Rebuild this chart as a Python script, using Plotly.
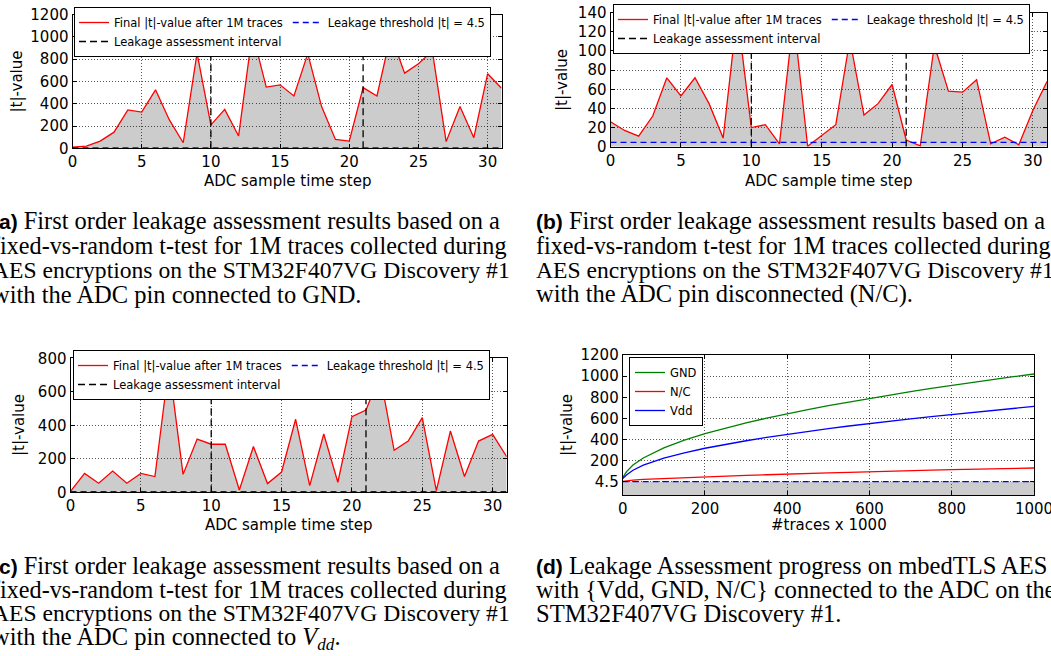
import plotly.graph_objects as go

W, H = 1051, 656

# ---------------- data ----------------
steps = list(range(32))
t_gnd = [10, 20, 65, 145, 345, 325, 525, 255, 50, 855, 210, 350, 110, 1040, 550, 570,
         470, 850, 375, 80, 65, 545, 470, 1020, 675, 760, 875, 60, 375, 95, 670, 540]
t_nc = [26, 17, 11, 32, 72, 53, 72, 45, 9, 140, 20, 23, 3, 135, 0.5, 12,
        23, 112, 33, 45, 65, 7, 1, 106, 58, 57, 70, 3, 10, 2, 38, 68]
t_vdd = [5, 113, 54, 127, 54, 113, 94, 760, 107, 318, 287, 287, 14, 273, 52, 121,
         436, 40, 348, 60, 452, 491, 700, 251, 306, 446, 10, 366, 94, 306, 346, 213]
interval = [10, 21]
threshold = 4.5

k_traces = [0, 10, 25, 50, 100, 150, 200, 250, 300, 350, 400, 450, 500, 550, 600, 650,
            700, 750, 800, 850, 900, 950, 1000]
prog_gnd = [45, 102, 162, 228, 323, 396, 457, 511, 559, 604, 646, 685, 722, 757, 791, 824,
            855, 885, 914, 942, 969, 996, 1021]
prog_nc = [8, 14, 20, 26, 35, 43, 52, 58, 64, 70, 78, 83, 88, 93, 100, 104,
           109, 114, 119, 123, 127, 130, 134]
prog_vdd = [35, 71, 113, 160, 226, 277, 320, 357, 391, 423, 452, 479, 505, 530, 554, 576,
            598, 619, 639, 659, 678, 697, 715]

step_ticks = [0, 5, 10, 15, 20, 25, 30]
a_yticks = [0, 200, 400, 600, 800, 1000, 1200]
b_yticks = [0, 20, 40, 60, 80, 100, 120, 140]
c_yticks = [0, 200, 400, 600, 800]
d_xticks = [0, 200, 400, 600, 800, 1000]
d_yticks = [4.5, 200, 400, 600, 800, 1000, 1200]
d_yticktext = ["4.5", "200", "400", "600", "800", "1000", "1200"]

cap_a = ["First order leakage assessment results based on a",
         "fixed-vs-random t-test for 1M traces collected during",
         "AES encryptions on the STM32F407VG Discovery #1",
         "with the ADC pin connected to GND."]
cap_b = ["First order leakage assessment results based on a",
         "fixed-vs-random t-test for 1M traces collected during",
         "AES encryptions on the STM32F407VG Discovery #1",
         "with the ADC pin disconnected (N/C)."]
cap_c = ["First order leakage assessment results based on a",
         "fixed-vs-random t-test for 1M traces collected during",
         "AES encryptions on the STM32F407VG Discovery #1",
         "with the ADC pin connected to <i>V</i><sub><i>dd</i></sub>."]
cap_d = ["Leakage Assessment progress on mbedTLS AES",
         "with {Vdd, GND, N/C} connected to the ADC on the",
         "STM32F407VG Discovery #1."]

# ---------------- helpers ----------------
def dx(l, r):
    return [l / W, r / W]

def dy(t, b):
    return [1 - b / H, 1 - t / H]

SANS = "DejaVu Sans"
SERIF = "Liberation Serif"
GRID = "rgba(0,0,0,0.65)"
FILL = "rgba(0,0,0,0.2)"
LEGFONT = dict(family=SANS, size=11.5, color="black")

def axis(domain, rng, anchor, tickvals, ticktext=None):
    d = dict(domain=domain, range=rng, anchor=anchor, showline=True, linecolor="black",
             linewidth=1, mirror="ticks", ticks="inside", ticklen=4, tickcolor="black",
             showgrid=True, gridcolor=GRID, griddash="1px,2px", gridwidth=1,
             zeroline=False, automargin=False, tickmode="array", tickvals=tickvals,
             ticklabeloverflow="allow",
             tickfont=dict(family=SANS, size=15, color="black"))
    if ticktext is not None:
        d["ticktext"] = ticktext
    return d

fig = go.Figure()

panels = [
    ("a", t_gnd, a_yticks, (72.5, 501.5), (14.7, 148.3), "legend", (74, 7)),
    ("b", t_nc, b_yticks, (610.5, 1047), (12.7, 146.7), "legend2", (613, 4)),
    ("c", t_vdd, c_yticks, (70.5, 506.7), (358.3, 492.3), "legend3", (73, 350)),
]
layout_axes = {}
legends = {}
for i, (nm, vals, yt, xd, yd, lg, lpos) in enumerate(panels):
    n = "" if i == 0 else str(i + 1)
    xa, ya = "x" + n, "y" + n
    yr = [yt[0], yt[-1]]
    fig.add_trace(go.Scatter(x=steps, y=vals, mode="lines", fill="tozeroy", fillcolor=FILL,
                             line=dict(width=0, color=FILL), xaxis=xa, yaxis=ya,
                             showlegend=False, hoverinfo="skip"))
    fig.add_trace(go.Scatter(x=steps, y=vals, mode="lines",
                             line=dict(color="red", width=1.3), xaxis=xa, yaxis=ya,
                             name="Final |t|-value after 1M traces", legend=lg,
                             legendgroup=nm + "1"))
    fig.add_trace(go.Scatter(x=[steps[0], steps[-1]], y=[threshold, threshold], mode="lines",
                             line=dict(color="blue", width=1.3, dash="6px,4px"), xaxis=xa, yaxis=ya,
                             name="Leakage threshold |t| = 4.5", legend=lg, legendgroup=nm + "2"))
    vx, vy = [], []
    for v in interval:
        vx += [v, v, None]
        vy += [yr[0], yr[1], None]
    fig.add_trace(go.Scatter(x=vx, y=vy, mode="lines",
                             line=dict(color="black", width=1.3, dash="7px,4px"), xaxis=xa, yaxis=ya,
                             name="Leakage assessment interval", legend=lg, legendgroup=nm + "1"))
    layout_axes["xaxis" + n] = axis(dx(*xd), [steps[0], steps[-1]], ya, step_ticks)
    layout_axes["yaxis" + n] = axis(dy(*yd), yr, xa, yt)
    legends[lg] = dict(x=lpos[0] / W, y=1 - lpos[1] / H, xanchor="left", yanchor="top",
                       orientation="h", bgcolor="white", bordercolor="black", borderwidth=1,
                       font=LEGFONT, tracegroupgap=0)

# panel d
d_yr = [-121, 1200]
for vals, col, nm in [(prog_gnd, "green", "GND"), (prog_nc, "red", "N/C"), (prog_vdd, "blue", "Vdd")]:
    fig.add_trace(go.Scatter(x=k_traces, y=vals, mode="lines", line=dict(color=col, width=1.3),
                             xaxis="x4", yaxis="y4", name=nm, legend="legend4"))
fig.add_trace(go.Scatter(x=[k_traces[0], k_traces[-1]], y=[threshold, threshold], mode="lines",
                         line=dict(color="blue", width=1.3, dash="6px,4px"), xaxis="x4", yaxis="y4",
                         showlegend=False))
fig.add_shape(type="rect", xref="x4 domain", yref="y4", x0=0, x1=1, y0=d_yr[0], y1=threshold,
              fillcolor=FILL, line=dict(width=0), layer="below")
layout_axes["xaxis4"] = axis(dx(622.7, 1034), [k_traces[0], k_traces[-1]], "y4", d_xticks)
layout_axes["yaxis4"] = axis(dy(355, 495), d_yr, "x4", d_yticks, d_yticktext)
legends["legend4"] = dict(x=629 / W, y=1 - 357 / H, xanchor="left", yanchor="top",
                          bgcolor="white", bordercolor="black", borderwidth=1, font=LEGFONT)

# ---------------- annotations ----------------
ann = []
def text(s, x, y, size=15, family=SANS, xanchor="center", angle=0):
    ann.append(dict(text=s, x=x / W, y=1 - y / H, xref="paper", yref="paper", showarrow=False,
                    xanchor=xanchor, yanchor="middle", textangle=angle,
                    font=dict(family=family, size=size, color="black")))

text("ADC sample time step", 287, 181)
text("ADC sample time step", 828.5, 181)
text("ADC sample time step", 288.5, 525)
text("#traces x 1000", 828.5, 525)
text("|t|-value", 16, 81.5, angle=-90)
text("|t|-value", 562, 80, angle=-90)
text("|t|-value", 19, 425, angle=-90)
text("|t|-value", 567, 425, angle=-90)

def caption(label, lines, x0, ys, sizes):
    for j, (ln, yy, sz) in enumerate(zip(lines, ys, sizes)):
        s = ln
        if j == 0:
            s = ('<b><span style="font-family:Liberation Sans;font-size:21px">'
                 + label + "</span></b> " + ln)
        text(s, x0, yy, size=sz, family=SERIF, xanchor="left")

SZ4 = [24.4, 24.2, 23.6, 24.5]
caption("(a)", cap_a, -10, [220, 245, 270, 294], SZ4)
caption("(b)", cap_b, 534, [220, 245, 270, 294], SZ4)
caption("(c)", cap_c, -10, [565, 589, 613, 638], SZ4)
caption("(d)", cap_d, 534, [565, 589, 613], [24.5, 24.3, 24.6])

fig.update_layout(width=W, height=H,
                  margin=dict(l=0, r=0, t=0, b=0, pad=0, autoexpand=False),
                  template="none", autosize=False, paper_bgcolor="white", plot_bgcolor="white",
                  annotations=ann, showlegend=True, **layout_axes, **legends)
fig.write_html("out.html", config={"responsive": False, "displayModeBar": False},
               post_script="document.body.style.margin='0px';document.body.style.overflow='hidden';")
